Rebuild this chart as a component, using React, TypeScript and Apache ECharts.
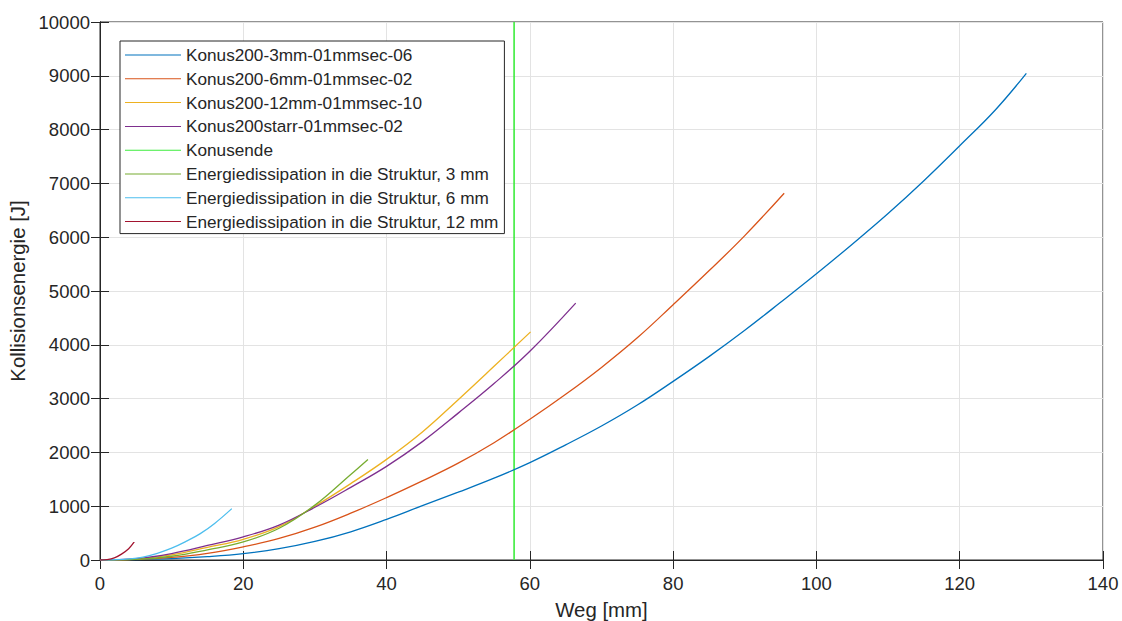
import React, { useEffect, useRef } from "react";
import * as echarts from "echarts";

// ---- Data ----
const xTicks = [0, 20, 40, 60, 80, 100, 120, 140];
const yTicks = [0, 1000, 2000, 3000, 4000, 5000, 6000, 7000, 8000, 9000, 10000];

const blueX = [0, 5, 10, 15, 20, 25, 30, 35, 40, 45, 50, 55, 60, 65, 70, 75, 80, 85, 90, 95, 100, 105, 110, 115, 120, 125, 129.3];
const blueY = [0, 6, 25, 62, 118, 210, 345, 525, 755, 1010, 1260, 1520, 1810, 2140, 2490, 2880, 3320, 3780, 4270, 4790, 5320, 5870, 6440, 7050, 7700, 8370, 9046];

const orangeX = [0, 5, 10, 15, 20, 25, 30, 35, 40, 45, 50, 55, 60, 65, 70, 75, 80, 85, 90, 95.5];
const orangeY = [0, 12, 50, 125, 245, 400, 610, 870, 1160, 1470, 1800, 2180, 2615, 3080, 3580, 4130, 4745, 5375, 6030, 6818];

const yellowX = [0, 5, 10, 15, 20, 25, 30, 35, 40, 45, 50, 55, 60.1];
const yellowY = [0, 18, 95, 235, 385, 620, 1000, 1420, 1870, 2380, 2980, 3600, 4240];

const purpleX = [0, 5, 10, 15, 20, 25, 30, 35, 40, 45, 50, 55, 60, 66.4];
const purpleY = [0, 25, 120, 270, 430, 650, 980, 1350, 1740, 2200, 2730, 3280, 3880, 4775];

const konusendeX = [57.8, 57.8];
const konusendeY = [0, 10000];

const diss3X = [0, 5, 10, 15, 20, 25, 30, 35, 37.4];
const diss3Y = [0, 12, 70, 190, 335, 590, 1020, 1590, 1870];

const diss6X = [0, 2, 4, 6, 8, 10, 12, 14, 16, 18.4];
const diss6Y = [0, 5, 20, 55, 125, 220, 345, 490, 680, 955];

const diss12X = [0, 1, 2, 3, 4, 4.78];
const diss12Y = [0, 8, 40, 110, 210, 335];

const seriesNames = [
  "Konus200-3mm-01mmsec-06",
  "Konus200-6mm-01mmsec-02",
  "Konus200-12mm-01mmsec-10",
  "Konus200starr-01mmsec-02",
  "Konusende",
  "Energiedissipation in die Struktur, 3 mm",
  "Energiedissipation in die Struktur, 6 mm",
  "Energiedissipation in die Struktur, 12 mm",
];
const seriesColors = ["#0072BD", "#D95319", "#EDB120", "#7E2F8E", "#3dec3d", "#77AC30", "#4DBEEE", "#A2142F"];

const zip = (xs: number[], ys: number[]) => xs.map((x, i) => [x, ys[i]]);

export default function App() {
  const ref = useRef<HTMLDivElement>(null);
  useEffect(() => {
    if (!ref.current) return;
    const chart = echarts.init(ref.current, null, { renderer: "svg" });
    const datasets = [
      zip(blueX, blueY),
      zip(orangeX, orangeY),
      zip(yellowX, yellowY),
      zip(purpleX, purpleY),
      zip(konusendeX, konusendeY),
      zip(diss3X, diss3Y),
      zip(diss6X, diss6Y),
      zip(diss12X, diss12Y),
    ];
    const font = "'Liberation Sans', Arial, Helvetica, sans-serif";
    const textColor = "#262626";
    const axisCommon = {
      axisLine: { show: true, lineStyle: { color: textColor, width: 1 } },
      axisTick: { show: true, inside: true, length: 9, lineStyle: { color: textColor } },
      splitLine: { show: true, lineStyle: { color: "#e3e3e3", width: 1 } },
    };
    chart.setOption({
      animation: false,
      backgroundColor: "#ffffff",
      textStyle: { fontFamily: font },
      grid: {
        left: 100,
        right: 19,
        top: 22,
        bottom: 61,
        show: true,
        borderColor: textColor,
        borderWidth: 1,
        containLabel: false,
        outerBoundsMode: "none",
      },
      legend: {
        show: true,
        orient: "vertical",
        left: 120,
        top: 41,
        padding: [4, 6, 2, 5],
        itemWidth: 56,
        itemHeight: 14,
        itemGap: 3.8,
        backgroundColor: "#ffffff",
        borderColor: textColor,
        borderWidth: 1,
        borderRadius: 0,
        data: seriesNames.map((n) => ({ name: n, icon: "path://M0,0 L56,0 L56,1 L0,1 Z" })),
        textStyle: { fontFamily: font, fontSize: 17.2, color: textColor, lineHeight: 20 },
      },
      xAxis: [
        {
          type: "value",
          min: 0,
          max: 140,
          interval: 20,
          name: "Weg [mm]",
          nameLocation: "middle",
          nameGap: 40,
          nameTextStyle: { fontFamily: font, fontSize: 20.4, color: textColor },
          axisLabel: { fontFamily: font, fontSize: 18.5, color: textColor, margin: 14, formatter: (v: number) => String(v) },
          ...axisCommon,
        },
        {
          type: "value",
          position: "top",
          min: 0,
          max: 140,
          interval: 20,
          axisLabel: { show: false },
          axisLine: { show: true, lineStyle: { color: textColor } },
          axisTick: { show: true, inside: true, length: 9, lineStyle: { color: textColor } },
          splitLine: { show: false },
        },
      ],
      yAxis: [
        {
          type: "value",
          min: 0,
          max: 10000,
          interval: 1000,
          name: "Kollisionsenergie [J]",
          nameLocation: "middle",
          nameGap: 70,
          nameTextStyle: { fontFamily: font, fontSize: 20.4, color: textColor },
          axisLabel: { fontFamily: font, fontSize: 18.5, color: textColor, margin: 10, formatter: (v: number) => String(v) },
          ...axisCommon,
        },
        {
          type: "value",
          position: "right",
          min: 0,
          max: 10000,
          interval: 1000,
          axisLabel: { show: false },
          axisLine: { show: true, lineStyle: { color: textColor } },
          axisTick: { show: true, inside: true, length: 9, lineStyle: { color: textColor } },
          splitLine: { show: false },
        },
      ],
      series: datasets.map((d, i) => ({
        name: seriesNames[i],
        type: "line",
        data: d,
        xAxisIndex: 0,
        yAxisIndex: 0,
        symbol: "none",
        smooth: i === 4 ? false : 0.4,
        z: i === 4 ? 1 : 2,
        lineStyle: { color: seriesColors[i], width: i === 4 ? 1.6 : 1.3 },
        itemStyle: { color: seriesColors[i] },
      })),
    });
    return () => chart.dispose();
  }, []);
  return (
    <div
      ref={ref}
      style={{ position: "absolute", left: 0, top: 0, width: 1122, height: 621, background: "#fff" }}
    />
  );
}

// tick labels kept for reference
void xTicks;
void yTicks;
